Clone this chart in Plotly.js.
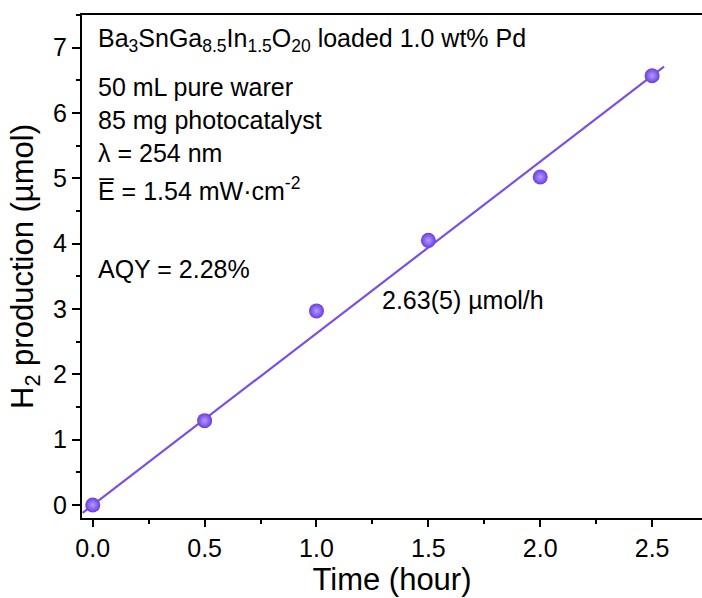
<!DOCTYPE html>
<html>
<head>
<meta charset="utf-8">
<script src="https://cdn.plot.ly/plotly-3.0.1.min.js"></script>
<style>html,body{margin:0;padding:0;background:#fff;}#chart{width:702px;height:598px;}</style>
</head>
<body>
<div id="chart"></div>
<script>
// Data
const timeHours = [0.0, 0.5, 1.0, 1.5, 2.0, 2.5];
const h2Production = [0.0, 1.29, 2.97, 4.05, 5.02, 6.57];
const fitX = [-0.045, 2.553];
const fitY = [-0.12, 6.71];
const xTickVals = [0, 0.5, 1.0, 1.5, 2.0, 2.5];
const xTickText = ['0.0', '0.5', '1.0', '1.5', '2.0', '2.5'];
const yTickVals = [0, 1, 2, 3, 4, 5, 6, 7];
const infoLines = [
  'Ba<sub>3</sub>SnGa<sub>8.5</sub>In<sub>1.5</sub>O<sub>20</sub> loaded 1.0 wt% Pd',
  '50 mL pure warer',
  '85 mg photocatalyst',
  'λ = 254 nm',
  'E\u0305 = 1.54 mW·cm<sup>-2</sup>',
  'AQY = 2.28%'
];
const rateLabel = '2.63(5) µmol/h';

const FONT = 'Arial, "Liberation Sans", sans-serif';
const purple = '#7b4fe3';

const traces = [
  {
    x: fitX, y: fitY, mode: 'lines', type: 'scatter',
    line: {color: purple, width: 2.2}, hoverinfo: 'skip', showlegend: false
  },
  {
    x: timeHours, y: h2Production, mode: 'markers', type: 'scatter',
    marker: {size: 15, color: '#6a3ce0', gradient: {type: 'radial', color: '#b49cff'}, line: {width: 0}},
    showlegend: false
  }
];

const infoY = [0.951, 0.857, 0.791, 0.725, 0.655, 0.4945];
const annotations = infoLines.map((t, i) => ({
  text: t, xref: 'paper', yref: 'paper', x: 0.022, y: infoY[i],
  xanchor: 'left', yanchor: 'middle', showarrow: false,
  font: {family: FONT, size: 25, color: '#000'}
}));
annotations.push({
  text: rateLabel, xref: 'paper', yref: 'paper', x: 0.481, y: 0.434,
  xanchor: 'left', yanchor: 'middle', showarrow: false,
  font: {family: FONT, size: 25, color: '#000'}
});

const layout = {
  width: 702, height: 598,
  margin: {l: 82, r: 0, t: 14.5, b: 80},
  paper_bgcolor: '#fff', plot_bgcolor: '#fff',
  font: {family: FONT, color: '#000'},
  showlegend: false,
  xaxis: {
    range: [-0.048, 2.723],
    tickvals: xTickVals, ticktext: xTickText,
    ticks: 'outside', ticklen: 7, tickwidth: 2, tickcolor: '#000',
    minor: {dtick: 0.25, tick0: 0, ticks: 'outside', ticklen: 4, tickwidth: 2, tickcolor: '#000', showgrid: false},
    showline: true, linecolor: '#000', linewidth: 2, mirror: true,
    showgrid: false, zeroline: false,
    tickfont: {family: FONT, size: 25, color: '#000'},
    title: {text: 'Time (hour)', font: {family: FONT, size: 31, color: '#000'}, standoff: 6}
  },
  yaxis: {
    range: [-0.2, 7.5],
    tickvals: yTickVals,
    ticks: 'outside', ticklen: 8, tickwidth: 2, tickcolor: '#000',
    minor: {dtick: 0.5, tick0: 0, ticks: 'outside', ticklen: 4, tickwidth: 2, tickcolor: '#000', showgrid: false},
    showline: true, linecolor: '#000', linewidth: 2, mirror: false,
    showgrid: false, zeroline: false,
    tickfont: {family: FONT, size: 25, color: '#000'},
    title: {text: 'H<sub>2</sub> production (µmol)', font: {family: FONT, size: 31, color: '#000'}, standoff: 10}
  },
  annotations: annotations
};

Plotly.newPlot('chart', traces, layout, {displayModeBar: false, staticPlot: true});
</script>
</body>
</html>
